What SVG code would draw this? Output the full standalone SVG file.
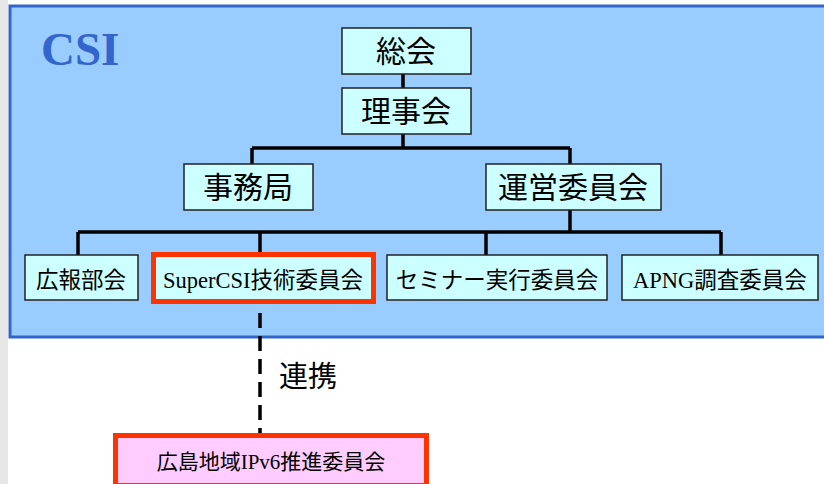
<svg xmlns="http://www.w3.org/2000/svg" width="824" height="484" viewBox="0 0 824 484">
<style>
.box{fill:#ccffff;stroke:#222;stroke-width:1.5}
.red{fill:#ccffff;stroke:#ff3300;stroke-width:5}
.pink{fill:#ffccff;stroke:#ff3300;stroke-width:5}
.t{font-family:"Liberation Serif","Noto Sans CJK JP",serif;fill:#000;text-anchor:middle}
.big{font-size:30px}
.sm{font-size:22.5px}
.ln{fill:none;stroke:#000;stroke-width:3.5}
</style>
<rect x="0" y="0" width="824" height="484" fill="#ffffff"/>
<rect x="0" y="0" width="8" height="484" fill="#e6e6e6"/>
<rect id="csi" x="10" y="6" width="830" height="331" fill="#99ccff" stroke="#3366cc" stroke-width="3"/>
<text x="41" y="65" font-family="Liberation Serif,serif" font-weight="bold" font-size="47" fill="#3366cc">CSI</text>
<g id="connectors">
<path class="ln" d="M403 74V88M403 134V148M252 148H570M252 148V164M570 148V164M570 210V232M78 232H721M78 232V255M260 232V252M486 232V255M721 232V255"/>
<path d="M260 313V433" fill="none" stroke="#000" stroke-width="3.5" stroke-dasharray="15,8"/>
<text x="308" y="387" font-family="Noto Sans CJK JP,sans-serif" font-size="29" text-anchor="middle">連携</text>
</g>
<g id="n_soukai"><rect class="box" x="342" y="28" width="129" height="46"/><text class="t big" x="406" y="62">総会</text></g>
<g id="n_rijikai"><rect class="box" x="342" y="88" width="129" height="46"/><text class="t big" x="406" y="122">理事会</text></g>
<g id="n_jimukyoku"><rect class="box" x="184" y="164" width="129" height="46"/><text class="t big" x="248" y="198">事務局</text></g>
<g id="n_unei"><rect class="box" x="486" y="164" width="175" height="46"/><text class="t big" x="573" y="198">運営委員会</text></g>
<g id="n_kouhou"><rect class="box" x="25" y="255" width="113" height="45"/><text class="t sm" x="81" y="288">広報部会</text></g>
<g id="n_supercsi"><rect class="red" x="153.5" y="254.5" width="220" height="47"/><text class="t sm" x="263" y="288">SuperCSI技術委員会</text></g>
<g id="n_seminar"><rect class="box" x="387" y="255" width="220" height="45"/><text class="t sm" x="497" y="288">セミナー実行委員会</text></g>
<g id="n_apng"><rect class="box" x="622" y="255" width="196" height="45"/><text class="t sm" x="720" y="288">APNG調査委員会</text></g>
<g id="n_hiroshima"><rect class="pink" x="115.5" y="435.5" width="311" height="50"/><text class="t" style="font-size:21px" x="271" y="469">広島地域IPv6推進委員会</text></g>
</svg>
